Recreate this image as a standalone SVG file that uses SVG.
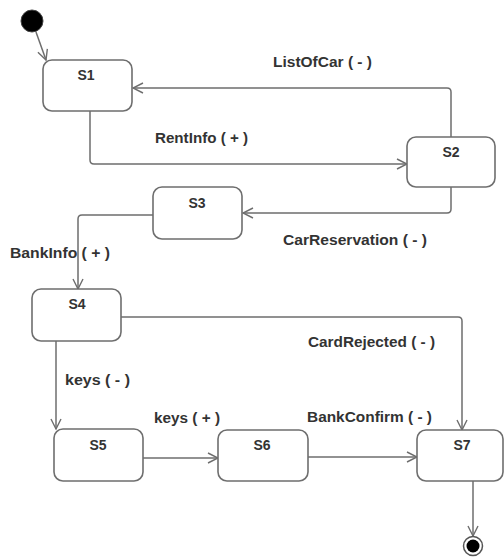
<svg xmlns="http://www.w3.org/2000/svg" width="504" height="557" viewBox="0 0 504 557">
<defs>
<style>
.st{fill:#fff;stroke:#6e6e6e;stroke-width:1.6}
.nm{font-family:"Liberation Sans",Arial,sans-serif;font-weight:bold;font-size:14px;fill:#333;text-anchor:middle}
.lb{font-family:"Liberation Sans",Arial,sans-serif;font-weight:bold;font-size:14px;fill:#333}
.cn{fill:none;stroke:#6e6e6e;stroke-width:1.5;stroke-linejoin:round}
</style>
<marker id="ah" viewBox="0 0 12 12" refX="11" refY="6" markerWidth="12" markerHeight="12" markerUnits="userSpaceOnUse" orient="auto">
<path d="M1,1 L11,6 L1,11" fill="none" stroke="#6e6e6e" stroke-width="1.4"/>
</marker>
</defs>
<rect width="504" height="557" fill="#fff"/>
<g id="connectors">
<path class="cn" d="M36,32 L46,60" marker-end="url(#ah)"/>
<path class="cn" d="M90,111 L90,160 Q90,164 94,164 L407,164" marker-end="url(#ah)"/>
<path class="cn" d="M451,137 L451,92 Q451,88 447,88 L133,88" marker-end="url(#ah)"/>
<path class="cn" d="M451,187 L451,209 Q451,213 447,213 L243,213" marker-end="url(#ah)"/>
<path class="cn" d="M153,215 L82,215 Q78,215 78,219 L78,289" marker-end="url(#ah)"/>
<path class="cn" d="M121,317 L458,317 Q462,317 462,321 L462,430" marker-end="url(#ah)"/>
<path class="cn" d="M56,341 L56,429" marker-end="url(#ah)"/>
<path class="cn" d="M143,458 L218,458" marker-end="url(#ah)"/>
<path class="cn" d="M308,457 L417,457" marker-end="url(#ah)"/>
<path class="cn" d="M473,481 L473,536" marker-end="url(#ah)"/>
<text class="lb" x="273" y="67" textLength="99" lengthAdjust="spacingAndGlyphs">ListOfCar ( - )</text>
<text class="lb" x="155" y="143" textLength="93" lengthAdjust="spacingAndGlyphs">RentInfo ( + )</text>
<text class="lb" x="283" y="245" textLength="144" lengthAdjust="spacingAndGlyphs">CarReservation ( - )</text>
<text class="lb" x="10" y="258" textLength="100" lengthAdjust="spacingAndGlyphs">BankInfo ( + )</text>
<text class="lb" x="308" y="347" textLength="127" lengthAdjust="spacingAndGlyphs">CardRejected ( - )</text>
<text class="lb" x="65" y="385" textLength="65" lengthAdjust="spacingAndGlyphs">keys ( - )</text>
<text class="lb" x="154" y="423" textLength="66" lengthAdjust="spacingAndGlyphs">keys ( + )</text>
<text class="lb" x="307" y="422" textLength="125" lengthAdjust="spacingAndGlyphs">BankConfirm ( - )</text>
</g>
<g id="initial"><circle cx="32" cy="21" r="11" fill="#000" stroke="#444" stroke-width="1"/></g>
<g id="S1"><rect class="st" x="43" y="60" width="89" height="51" rx="9"/><text class="nm" x="86" y="80">S1</text></g>
<g id="S2"><rect class="st" x="407" y="137" width="88" height="50" rx="9"/><text class="nm" x="451" y="157">S2</text></g>
<g id="S3"><rect class="st" x="153" y="187" width="89" height="52" rx="9"/><text class="nm" x="197" y="208">S3</text></g>
<g id="S4"><rect class="st" x="32" y="289" width="89" height="52" rx="9"/><text class="nm" x="77" y="309">S4</text></g>
<g id="S5"><rect class="st" x="54" y="429" width="89" height="52" rx="9"/><text class="nm" x="98" y="450">S5</text></g>
<g id="S6"><rect class="st" x="218" y="430" width="90" height="51" rx="9"/><text class="nm" x="262" y="450">S6</text></g>
<g id="S7"><rect class="st" x="417" y="430" width="86" height="51" rx="9"/><text class="nm" x="462" y="450">S7</text></g>
<g id="final"><circle cx="473" cy="546" r="9.5" fill="#fff" stroke="#555" stroke-width="1.5"/><circle cx="473" cy="546" r="6.5" fill="#000"/></g>
</svg>
